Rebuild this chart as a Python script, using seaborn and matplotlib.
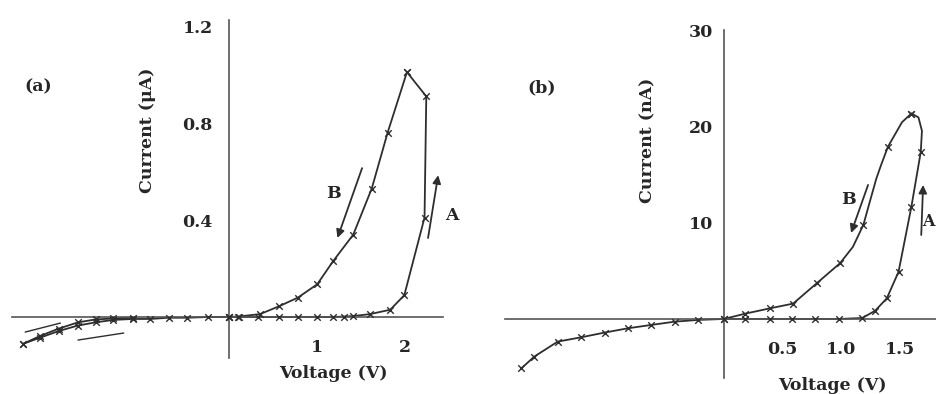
import matplotlib
matplotlib.use("Agg")
import matplotlib.pyplot as plt
import seaborn as sns
import pandas as pd
import numpy as np

# ---------------- data ----------------
# Panel (a): current in microamps
a_fwd_v = [0.0, 0.11, 0.33, 0.57, 0.78, 1.00, 1.18, 1.30, 1.41, 1.60, 1.83, 1.99, 2.22, 2.24, 2.02]
a_fwd_i = [0.0, 0.0, 0.0, 0.0, 0.0, 0.0, 0.0, 0.002, 0.004, 0.012, 0.03, 0.09, 0.41, 0.91, 1.01]
a_rev_v = [2.02, 1.80, 1.62, 1.41, 1.18, 1.00, 0.78, 0.57, 0.35, 0.10, 0.0]
a_rev_i = [1.01, 0.76, 0.53, 0.34, 0.23, 0.135, 0.08, 0.045, 0.012, 0.002, 0.0]
a_neg_v = [0.0, -0.24, -0.48, -0.69, -0.90, -1.10, -1.32, -1.52, -1.72, -1.94, -2.15, -2.34]
a_neg_i = [0.0, 0.0, -0.003, -0.003, -0.008, -0.008, -0.012, -0.022, -0.035, -0.058, -0.085, -0.11]
a_ret_v = [-2.34, -2.15, -1.94, -1.72, -1.52, -1.32, -1.10]
a_ret_i = [-0.11, -0.078, -0.048, -0.022, -0.010, -0.006, -0.003]

# Panel (b): current in nanoamps
b_neg_v = [0.0, -0.22, -0.42, -0.62, -0.82, -1.02, -1.22, -1.42, -1.62, -1.73]
b_neg_i = [0.0, -0.10, -0.28, -0.62, -0.97, -1.42, -1.91, -2.36, -3.92, -5.14]
b_fwd_v = [0.0, 0.18, 0.39, 0.58, 0.78, 0.98, 1.18, 1.29, 1.39, 1.49, 1.60, 1.68, 1.69, 1.66, 1.60]
b_fwd_i = [0.0, 0.0, 0.0, 0.0, 0.0, 0.0, 0.1, 0.85, 2.15, 4.9, 11.7, 17.4, 19.6, 21.0, 21.4]
b_fwd_mark = [1, 1, 1, 1, 1, 1, 1, 1, 1, 1, 1, 1, 0, 0, 1]
b_rev_v = [1.60, 1.52, 1.40, 1.34, 1.30, 1.24, 1.19, 1.10, 0.99, 0.79, 0.59, 0.39, 0.18, 0.0]
b_rev_i = [21.4, 20.5, 17.95, 16.0, 14.6, 12.0, 9.8, 7.5, 5.8, 3.7, 1.6, 1.1, 0.55, 0.0]
b_rev_mark = [1, 0, 1, 0, 0, 0, 1, 0, 1, 1, 1, 1, 1, 0]

a_xticks = [1, 2]
a_xticklabels = ["1", "2"]
a_yticks = [0.4, 0.8, 1.2]
a_yticklabels = ["0.4", "0.8", "1.2"]
b_xticks = [-1.5, -1.0, -0.5, 0.5, 1.0, 1.5]
b_xticklabels = ["", "", "", "0.5", "1.0", "1.5"]
b_yticks = [10, 20, 30]
b_yticklabels = ["10", "20", "30"]

# ---------------- style ----------------
sns.set_theme(style="white")
plt.rcParams["font.family"] = ["DejaVu Serif"]
plt.rcParams["font.weight"] = "bold"

LINE = "#2e2e2e"
AXC = "#555555"
TXT = "#262626"

W, H = 936, 394
fig = plt.figure(figsize=(W / 100, H / 100), dpi=100)


def fr(x0, y0, x1, y1):
    # pixel box -> figure fraction [left, bottom, width, height]
    return [x0 / W, 1 - y1 / H, (x1 - x0) / W, (y1 - y0) / H]


def setup(ax, xlim, ylim):
    ax.set_xlim(*xlim)
    ax.set_ylim(*ylim)
    ax.patch.set_alpha(0)
    for s in ["top", "right"]:
        ax.spines[s].set_visible(False)
    ax.spines["left"].set_position(("data", 0))
    ax.spines["bottom"].set_position(("data", 0))
    for s in ["left", "bottom"]:
        ax.spines[s].set_color(AXC)
        ax.spines[s].set_linewidth(1.2)


def curve(ax, v, i, mark=None):
    df = pd.DataFrame({"v": v, "i": i, "o": range(len(v))})
    sns.lineplot(data=df, x="v", y="i", sort=False, estimator=None, ax=ax,
                 color=LINE, lw=1.3)
    if mark is not None:
        df = df[np.array(mark, dtype=bool)]
    sns.scatterplot(data=df, x="v", y="i", ax=ax, marker="x", color=LINE,
                    s=22, linewidth=1.0, zorder=3)
    ax.set_xlabel("")
    ax.set_ylabel("")


arrow = dict(arrowstyle="-|>", color=LINE, lw=1.3, mutation_scale=12,
             shrinkA=0, shrinkB=0)

# ---------------- panel (a) ----------------
axa = fig.add_axes(fr(12, 20, 443, 358))
setup(axa, (-2.47, 2.43), (-0.169, 1.225))
curve(axa, a_fwd_v, a_fwd_i)
curve(axa, a_rev_v, a_rev_i)
curve(axa, a_neg_v, a_neg_i)
curve(axa, a_ret_v, a_ret_i)
axa.plot([-2.32, -1.92], [-0.062, -0.025], color=LINE, lw=1.0)
axa.plot([-1.72, -1.20], [-0.095, -0.066], color=LINE, lw=1.0)
axa.set_xticks(a_xticks)
axa.set_xticklabels(a_xticklabels)
axa.set_yticks(a_yticks)
axa.set_yticklabels(a_yticklabels)
axa.tick_params(axis="x", direction="in", length=4, width=1, color=AXC,
                pad=16, labelsize=12.5, labelcolor=TXT)
axa.tick_params(axis="y", direction="in", length=4, width=1, color=AXC,
                pad=12, labelsize=12.5, labelcolor=TXT)
axa.annotate("", xy=(1.23, 0.326), xytext=(1.51, 0.614), arrowprops=arrow)
axa.annotate("", xy=(2.375, 0.585), xytext=(2.26, 0.326), arrowprops=arrow)
axa.text(1.18, 0.51, "B", fontsize=12.5, color=TXT, ha="center", va="center")
axa.text(2.53, 0.42, "A", fontsize=12.5, color=TXT, ha="center", va="center",
         clip_on=False)

fig.text(38 / W, 1 - 87 / H, "(a)", fontsize=12.5, color=TXT,
         ha="center", va="center")
fig.text(147 / W, 1 - 130 / H, "Current (μA)", fontsize=12.5, color=TXT,
         rotation=90, ha="center", va="center")
fig.text(333 / W, 1 - 373 / H, "Voltage (V)", fontsize=12.5, color=TXT,
         ha="center", va="center")

# ---------------- panel (b) ----------------
axb = fig.add_axes(fr(505, 30, 936, 378))
setup(axb, (-1.87, 1.81), (-6.15, 30.1))
curve(axb, b_neg_v, b_neg_i)
curve(axb, b_fwd_v, b_fwd_i, b_fwd_mark)
curve(axb, b_rev_v, b_rev_i, b_rev_mark)
axb.set_xticks(b_xticks)
axb.set_xticklabels(b_xticklabels)
axb.set_yticks(b_yticks)
axb.set_yticklabels(b_yticklabels)
axb.tick_params(axis="x", direction="in", length=4, width=1, color=AXC,
                pad=16, labelsize=12.5, labelcolor=TXT)
axb.tick_params(axis="y", direction="in", length=4, width=1, color=AXC,
                pad=8, labelsize=12.5, labelcolor=TXT)
axb.annotate("", xy=(1.085, 8.96), xytext=(1.23, 13.96), arrowprops=arrow)
axb.annotate("", xy=(1.70, 13.96), xytext=(1.684, 8.75), arrowprops=arrow)
axb.text(1.06, 12.4, "B", fontsize=12.5, color=TXT, ha="center", va="center")
fig.text(935 / W, 1 - 222 / H, "A", fontsize=11.5, color=TXT, ha="right",
         va="center")

fig.text(542 / W, 1 - 88 / H, "(b)", fontsize=12.5, color=TXT,
         ha="center", va="center")
fig.text(648 / W, 1 - 140 / H, "Current (nA)", fontsize=12.5, color=TXT,
         rotation=90, ha="center", va="center")
fig.text(832 / W, 1 - 385 / H, "Voltage (V)", fontsize=12.5, color=TXT,
         ha="center", va="center")

fig.savefig("out.png", dpi=100)
